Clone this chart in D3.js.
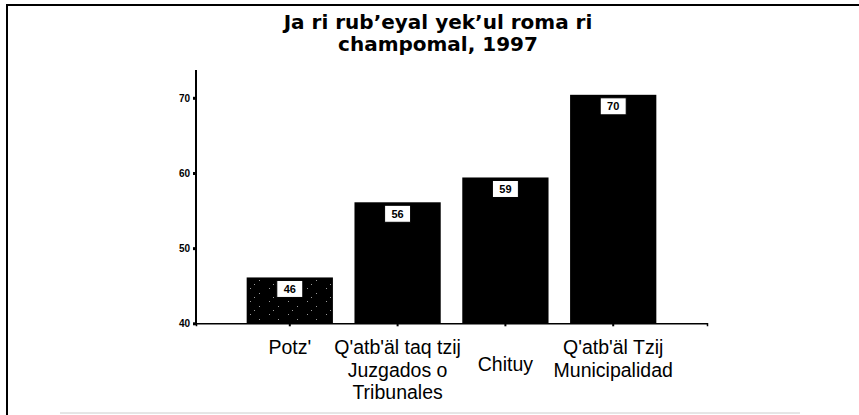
<!DOCTYPE html>
<html>
<head>
<meta charset="utf-8">
<script src="https://cdn.jsdelivr.net/npm/d3@7"></script>
<style>
  html, body { margin: 0; padding: 0; background: #fff; }
  svg { display: block; }
  text { font-family: "Liberation Sans", Arial, sans-serif; fill: #000; }
</style>
</head>
<body>
<div id="chart"></div>
<script>
// Chart data
const titleLines = ["Ja ri rub’eyal yek’ul roma ri", "champomal, 1997"];
const categories = [
    ["Potz'"],
    ["Q'atb'äl taq tzij", "Juzgados o", "Tribunales"],
    ["Chituy"],
    ["Q'atb'äl Tzij", "Municipalidad"]
];
const values = [46.1, 56.1, 59.4, 70.4];
const valueLabels = ["46", "56", "59", "70"];
const yTicks = [40, 50, 60, 70];

const width = 859, height = 415;

const svg = d3.select('#chart').append('svg')
    .attr('width', width)
    .attr('height', height);

// speckled fill for the first bar
const defs = svg.append('defs');
const pat = defs.append('pattern')
    .attr('id', 'speckle')
    .attr('patternUnits', 'userSpaceOnUse')
    .attr('width', 19)
    .attr('height', 13);
pat.append('rect').attr('width', 19).attr('height', 13).attr('fill', '#000');
[[3, 2], [12, 7], [7, 11]].forEach(p => {
    pat.append('rect')
        .attr('x', p[0]).attr('y', p[1])
        .attr('width', 1).attr('height', 1)
        .attr('fill', '#999');
});

// frame (scanned page border)
svg.append('line')
    .attr('x1', 7).attr('x2', width).attr('y1', 5).attr('y2', 5)
    .attr('stroke', '#000').attr('stroke-width', 2);
svg.append('line')
    .attr('x1', 7).attr('x2', 7).attr('y1', 4).attr('y2', height)
    .attr('stroke', '#000').attr('stroke-width', 2);
svg.append('line')
    .attr('x1', 60).attr('x2', 800).attr('y1', 413).attr('y2', 413)
    .attr('stroke', '#ccc').attr('stroke-width', 1);

// title
svg.append('text')
    .attr('x', 438)
    .attr('text-anchor', 'middle')
    .attr('font-size', '20px')
    .attr('font-weight', 'bold')
    .style('font-family', '"DejaVu Sans", sans-serif')
    .selectAll('tspan')
    .data(titleLines)
    .enter()
    .append('tspan')
    .attr('x', 438)
    .attr('y', (d, i) => 29 + i * 22)
    .text(d => d);

// scales
const y = d3.scaleLinear()
    .domain([40, 73.7])
    .range([323.3, 70]);

const x = d3.scaleBand()
    .domain(d3.range(categories.length))
    .range([196, 707])
    .paddingInner(0.2)
    .paddingOuter(0.47);

// y axis
const yAxis = svg.append('g')
    .attr('transform', 'translate(196,0)')
    .call(d3.axisLeft(y).tickValues(yTicks).tickSize(3).tickPadding(3));
yAxis.select('.domain')
    .attr('d', `M0,${y.range()[1]}V${y.range()[0]}`)
    .attr('stroke-width', 2);
yAxis.selectAll('.tick line').attr('stroke-width', 3);
yAxis.selectAll('.tick text')
    .attr('font-size', '10px')
    .attr('font-weight', 'bold')
    .attr('font-family', '"Liberation Sans", Arial, sans-serif');

// bars
svg.selectAll('.bar')
    .data(values)
    .enter()
    .append('rect')
    .attr('class', 'bar')
    .attr('x', (d, i) => x(i))
    .attr('y', d => y(d))
    .attr('width', x.bandwidth())
    .attr('height', d => y(40) - y(d))
    .attr('fill', (d, i) => i === 0 ? 'url(#speckle)' : '#000');

// x axis
const xAxis = svg.append('g')
    .attr('transform', `translate(0,${y(40)})`)
    .call(d3.axisBottom(x).tickSize(3).tickFormat(''));
xAxis.select('.domain').attr('stroke-width', 1.5);
xAxis.selectAll('.tick line').attr('stroke-width', 2);

// value boxes
const boxW = 26, boxH = 17;
const vl = svg.selectAll('.vlabel')
    .data(values)
    .enter()
    .append('g')
    .attr('class', 'vlabel')
    .attr('transform', (d, i) => `translate(${x(i) + x.bandwidth() / 2},${y(d) + 3})`);
vl.append('rect')
    .attr('x', -boxW / 2)
    .attr('width', boxW)
    .attr('height', boxH)
    .attr('fill', '#fff')
    .attr('stroke', '#000')
    .attr('stroke-width', 1);
vl.append('text')
    .attr('y', boxH / 2 + 4)
    .attr('text-anchor', 'middle')
    .attr('font-size', '11px')
    .attr('font-weight', 'bold')
    .text((d, i) => valueLabels[i]);

// category labels
const labelShift = [0, 0, 17, 0];
svg.selectAll('.cat')
    .data(categories)
    .enter()
    .append('text')
    .attr('class', 'cat')
    .attr('text-anchor', 'middle')
    .attr('font-size', '19.5px')
    .each(function(lines, i) {
        const cx = x(i) + x.bandwidth() / 2;
        d3.select(this).selectAll('tspan')
            .data(lines)
            .enter()
            .append('tspan')
            .attr('x', cx)
            .attr('y', (d, j) => 354 + labelShift[i] + j * 22.5)
            .text(d => d);
    });
</script>
</body>
</html>
